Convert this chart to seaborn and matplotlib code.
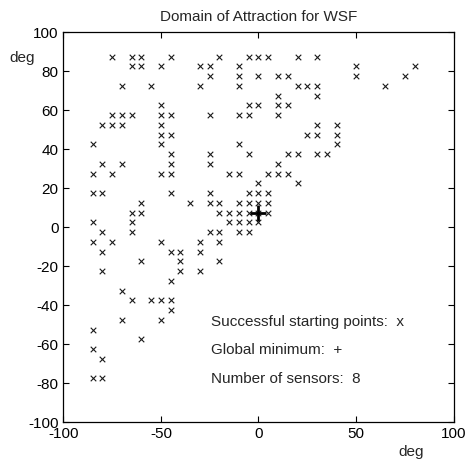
import numpy as np
import pandas as pd
import matplotlib
matplotlib.use("Agg")
import matplotlib.pyplot as plt
import seaborn as sns

# Starting elevations (deg), one row each, and the azimuths (deg) that converged on that row
start_el = [87.5, 82.5, 77.5, 72.5, 67.5, 62.5, 57.5, 52.5, 47.5, 42.5,
            37.5, 32.5, 27.5, 22.5, 17.5, 12.5, 7.5, 2.5, -2.5, -7.5,
            -12.5, -17.5, -22.5, -27.5, -32.5, -37.5, -42.5, -47.5, -52.5,
            -57.5, -62.5, -67.5, -77.5]
start_az = [
    [-75, -65, -60, -45, -20, -5, 0, 5, 20, 30],
    [-65, -60, -50, -30, -25, -10, 50, 80],
    [-25, -10, 0, 10, 15, 50, 75],
    [-70, -55, -30, -10, 20, 25, 30, 65],
    [10, 30],
    [-50, -5, 0, 10, 15],
    [-75, -70, -65, -50, -45, -25, -10, -5, 10],
    [-80, -75, -70, -50, 30, 40],
    [-50, -45, 25, 30, 40],
    [-85, -50, -10, 40],
    [-45, -25, -5, 15, 20, 30, 35],
    [-80, -70, -45, -25, 10],
    [-85, -75, -50, -45, -15, -10, 5, 10, 15],
    [0, 20],
    [-85, -80, -45, -25, -5, 0, 5],
    [-60, -35, -25, -20, -10, -5, 0, 5],
    [-65, -60, -20, -15, -10, -5, 0, 5],
    [-85, -65, -15, -10, -5, 0],
    [-80, -65, -25, -20, -10, -5],
    [-85, -75, -50, -30, -20],
    [-80, -45, -40, -30],
    [-60, -40, -20],
    [-80, -40, -30],
    [-45],
    [-70],
    [-65, -55, -50, -45],
    [-45],
    [-70, -50],
    [-85],
    [-60],
    [-85],
    [-80],
    [-85, -80],
]

# Global minimum location (deg)
min_az = [0.0]
min_el = [7.2]

n_sensors = 8
x_ticks = [-100, -50, 0, 50, 100]
y_ticks = [-100, -80, -60, -40, -20, 0, 20, 40, 60, 80, 100]

starts = pd.DataFrame(
    [(az, el) for el, row in zip(start_el, start_az) for az in row],
    columns=["az", "el"],
)
minimum = pd.DataFrame({"az": min_az, "el": min_el})

sns.set_style("ticks")
plt.rcParams["font.family"] = ["Liberation Sans", "DejaVu Sans"]
plt.rcParams["axes.unicode_minus"] = False

fig = plt.figure(figsize=(4.68, 4.63), dpi=100)
ax = fig.add_axes([63.3 / 468, (463 - 422.3) / 463, 390.4 / 468, 390.0 / 463])

sns.scatterplot(data=starts, x="az", y="el", marker="x", s=16,
                color="#1a1a1a", linewidth=0.8, ax=ax, legend=False)
sns.scatterplot(data=minimum, x="az", y="el", marker="+", s=120,
                color="black", linewidth=2.0, ax=ax, legend=False)

ax.set_xlim(-100, 100)
ax.set_ylim(-100, 100)
ax.set_xticks(x_ticks)
ax.set_yticks(y_ticks)
ax.set_xlabel("")
ax.set_ylabel("")
ax.tick_params(direction="in", top=True, right=True, length=4, width=0.8,
               labelsize=11, colors="black")
for side in ax.spines.values():
    side.set_visible(True)
    side.set_linewidth(0.9)
    side.set_color("black")

ax.set_title("Domain of Attraction for WSF", fontsize=11, pad=8)

# Axis unit labels
ax.text(-114.5, 85, "deg", ha="right", va="baseline", fontsize=11,
        clip_on=False)
ax.text(78, -0.0864, "deg", ha="center", va="baseline", fontsize=11,
        transform=ax.get_xaxis_transform(), clip_on=False)

# Legend-style annotations inside the plot
ax.text(-24.3, -48.4, "Successful starting points:  x", ha="left",
        va="center", fontsize=11)
ax.text(-24.3, -62.9, "Global minimum:  +", ha="left", va="center",
        fontsize=11)
ax.text(-24.3, -77.8, f"Number of sensors:  {n_sensors}", ha="left",
        va="center", fontsize=11)

fig.savefig("out.png", dpi=100)
